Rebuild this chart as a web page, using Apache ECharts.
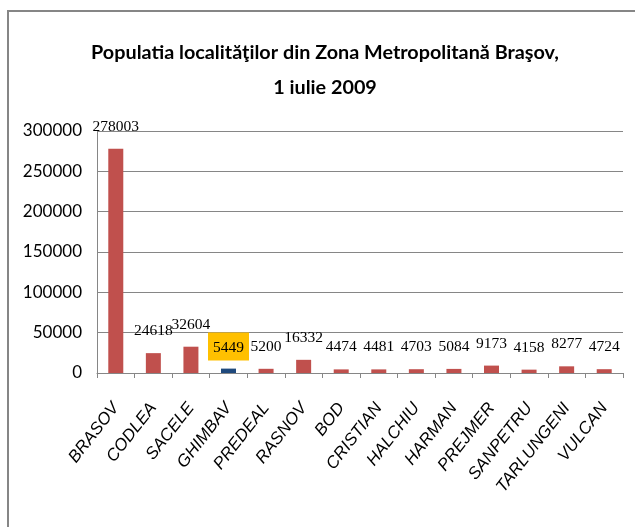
<!DOCTYPE html>
<html>
<head>
<meta charset="utf-8">
<script src="https://cdn.jsdelivr.net/npm/echarts@6/dist/echarts.min.js"></script>
<style>
  html, body { margin: 0; padding: 0; background: #fff; }
  #chart { width: 635px; height: 527px; }
</style>
</head>
<body>
<div id="chart"></div>
<script>
// date localitati
const localitati = ['BRASOV', 'CODLEA', 'SACELE', 'GHIMBAV', 'PREDEAL', 'RASNOV', 'BOD',
  'CRISTIAN', 'HALCHIU', 'HARMAN', 'PREJMER', 'SANPETRU', 'TARLUNGENI', 'VULCAN']
const populatie = [278003, 24618, 32604, 5449, 5200, 16332, 4474,
  4481, 4703, 5084, 9173, 4158, 8277, 4724]
const evidentiat = 'GHIMBAV'
const yTicks = [0, 50000, 100000, 150000, 200000, 250000, 300000]

const rosu = '#C0504D'
const albastru = '#1F497D'
const gri = '#868686'
const fontSans = "Lato, 'Open Sans', sans-serif"

const chart = echarts.init(document.getElementById('chart'))

chart.setOption({
  animation: false,
  title: {
    text: 'Populatia localităţilor din Zona Metropolitană Braşov,\n1 iulie 2009',
    left: 320,
    textAlign: 'center',
    top: 30,
    textStyle: {
      fontFamily: fontSans,
      fontSize: 19.8,
      fontWeight: 'bold',
      color: '#000',
      lineHeight: 35,
    },
  },
  graphic: [
    { type: 'line', shape: { x1: 8, y1: 11, x2: 635, y2: 11 }, style: { stroke: gri, lineWidth: 2 } },
    { type: 'line', shape: { x1: 8, y1: 10, x2: 8, y2: 527 }, style: { stroke: gri, lineWidth: 2 } },
  ],
  grid: { left: 97, right: 12, top: 131, bottom: 154 },
  xAxis: {
    type: 'category',
    data: localitati,
    axisLine: { lineStyle: { color: gri } },
    axisTick: { show: true, length: 5, lineStyle: { color: gri } },
    axisLabel: {
      interval: 0,
      rotate: 52,
      margin: 32,
      fontSize: 17,
      fontStyle: 'italic',
      color: '#000',
      fontFamily: "'Liberation Sans', Arial, sans-serif",
    },
  },
  yAxis: {
    type: 'value',
    min: yTicks[0],
    max: yTicks[yTicks.length - 1],
    interval: yTicks[1] - yTicks[0],
    axisLine: { show: true, lineStyle: { color: gri } },
    axisTick: { show: false },
    splitLine: { lineStyle: { color: gri, width: 1 } },
    axisLabel: {
      margin: 15,
      fontSize: 17,
      color: '#000',
      fontFamily: fontSans,
      formatter: v => String(v),
    },
  },
  series: [{
    type: 'bar',
    barWidth: 15,
    data: localitati.map((n, i) => {
      const hi = n === evidentiat
      return {
        value: populatie[i],
        itemStyle: { color: hi ? albastru : rosu },
        label: hi ? { backgroundColor: '#FFC000', padding: [7, 5, 5, 5], distance: 8 } : undefined,
      }
    }),
    label: {
      show: true,
      position: 'top',
      distance: 14,
      fontSize: 15.5,
      color: '#000',
      fontFamily: "'Liberation Serif', 'DejaVu Serif', serif",
    },
  }],
})
</script>
</body>
</html>
